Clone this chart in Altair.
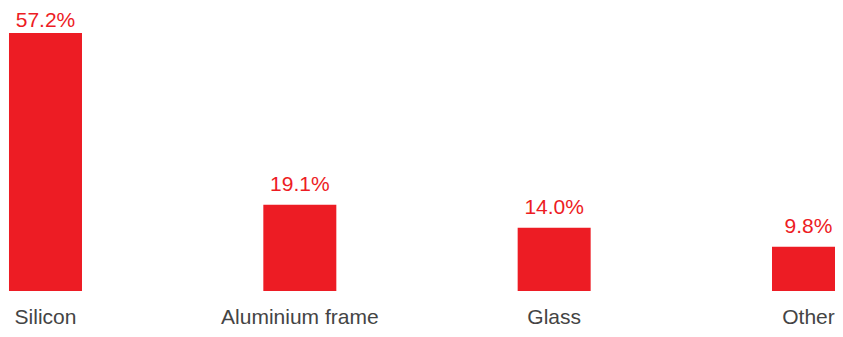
import altair as alt
import pandas as pd

categories = ["Silicon", "Aluminium frame", "Glass", "Other"]
values = [57.2, 19.1, 14.0, 9.8]
labels = ["57.2%", "19.1%", "14.0%", "9.8%"]

df = pd.DataFrame({
    "idx": list(range(len(categories))),
    "cat": categories,
    "val": values,
    "lab": labels,
})

RED = "#ED1C24"
GRAY = "#444444"
FONT = "Liberation Sans"

x = alt.X("idx:Q", scale=alt.Scale(domain=[-0.1474, 3.1042], nice=False, zero=False, padding=0), axis=None)
yscale = alt.Scale(domain=[0, 57.2], nice=False, zero=True)
y = alt.Y("val:Q", scale=yscale, axis=None)

base = alt.Chart(df)
bars = base.mark_bar(color=RED, width=73).encode(x=x, y=y)
vals = base.transform_calculate(
    ly="min(datum.val + 3.1, 58.5)"
).mark_text(
    color=RED, font=FONT, fontSize=21, baseline="alphabetic", align="center"
).encode(x=x, y=alt.Y("ly:Q", scale=yscale, axis=None), text="lab:N")
cats = base.mark_text(
    color=GRAY, font=FONT, fontSize=21, baseline="alphabetic", align="center"
).encode(x=x, y=alt.value(291), text="cat:N")

chart = (
    alt.layer(bars, vals, cats)
    .properties(
        width=827, height=258,
        autosize=alt.AutoSizeParams(type="none"),
        padding={"left": 0, "top": 25, "right": 0, "bottom": 38},
    )
    .configure_view(stroke=None)
)

chart.save("out.html", embed_options={"renderer": "svg", "actions": False})
